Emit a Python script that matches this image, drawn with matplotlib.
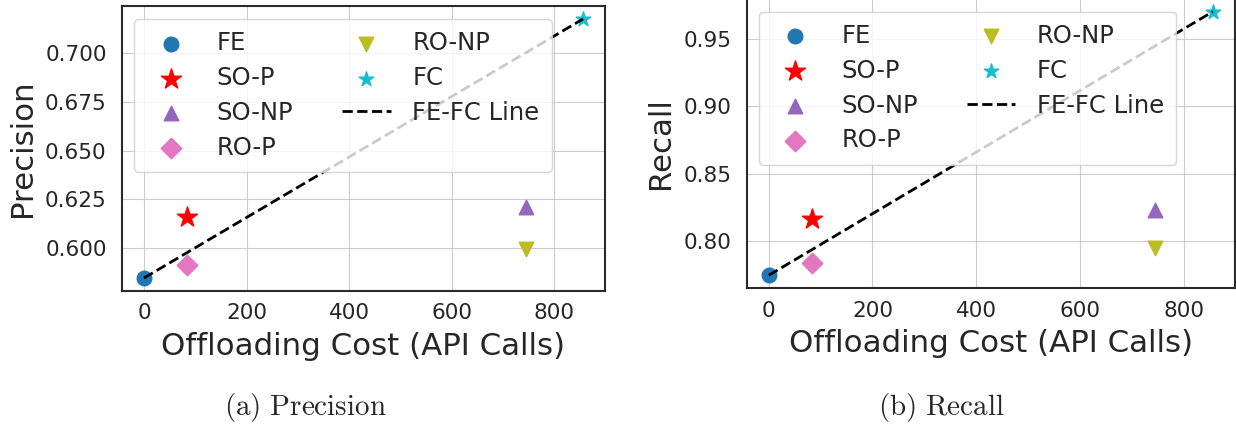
import matplotlib
matplotlib.use('Agg')
import matplotlib.pyplot as plt
import seaborn as sns

methods = ['FE', 'SO-P', 'SO-NP', 'RO-P', 'RO-NP', 'FC']
api_calls = [0, 84, 745, 84, 745, 856]
precision = [0.5848, 0.6160, 0.6211, 0.5913, 0.5997, 0.7173]
recall = [0.7742, 0.8160, 0.8229, 0.7832, 0.7943, 0.9706]

markers = ['o', '*', '^', 'D', 'v', '*']
colors = ['tab:blue', 'red', 'tab:purple', 'tab:pink', 'tab:olive', 'tab:cyan']
sizes = [110, 230, 110, 110, 110, 120]


def draw_panel(ax, values, ylabel):
    for i, name in enumerate(methods):
        ax.scatter(api_calls[i], values[i], marker=markers[i], color=colors[i],
                   s=sizes[i], label=name, zorder=3)
    ax.plot([api_calls[0], api_calls[-1]], [values[0], values[-1]],
            'k--', linewidth=2, label='FE-FC Line', zorder=4)
    ax.set_xlabel('Offloading Cost (API Calls)', fontsize=22.2, labelpad=6)
    ax.set_ylabel(ylabel, fontsize=22.2, labelpad=6)
    ax.tick_params(axis='both', labelsize=15.5, length=0)
    ax.tick_params(axis='y', pad=11)
    ax.tick_params(axis='x', pad=9)
    ax.set_xticks([0, 200, 400, 600, 800])
    for sp in ax.spines.values():
        sp.set_color('#2a2a2a')
        sp.set_linewidth(1.5)
    leg = ax.legend(ncol=2, loc='upper left', fontsize=17.5, framealpha=0.8,
                    columnspacing=2.0, handletextpad=0.9, borderpad=0.5,
                    labelspacing=0.45, borderaxespad=0,
                    bbox_to_anchor=(0.025, 0.955))
    leg.set_zorder(5)


sns.set_style('whitegrid')
plt.rcParams['font.family'] = ['DejaVu Sans']
plt.rcParams['mathtext.fontset'] = 'cm'

fig = plt.figure(figsize=(12.36, 4.25), dpi=100)
ax1 = fig.add_axes([0.0987, 0.3153, 0.3908, 0.6706])
ax2 = fig.add_axes([0.604, 0.3212, 0.3952, 0.6824])

draw_panel(ax1, precision, 'Precision')
draw_panel(ax2, recall, 'Recall')
ax1.set_yticks([0.600, 0.625, 0.650, 0.675, 0.700])
ax1.yaxis.set_major_formatter(matplotlib.ticker.FormatStrFormatter('%.3f'))
ax2.set_yticks([0.80, 0.85, 0.90, 0.95])

fig.text(0.2468, 0.042, r'$\mathrm{(a)\ Precision}$', fontsize=21, ha='center', va='center')
fig.text(0.762, 0.042, r'$\mathrm{(b)\ Recall}$', fontsize=21, ha='center', va='center')

fig.savefig('out.png', dpi=100)
